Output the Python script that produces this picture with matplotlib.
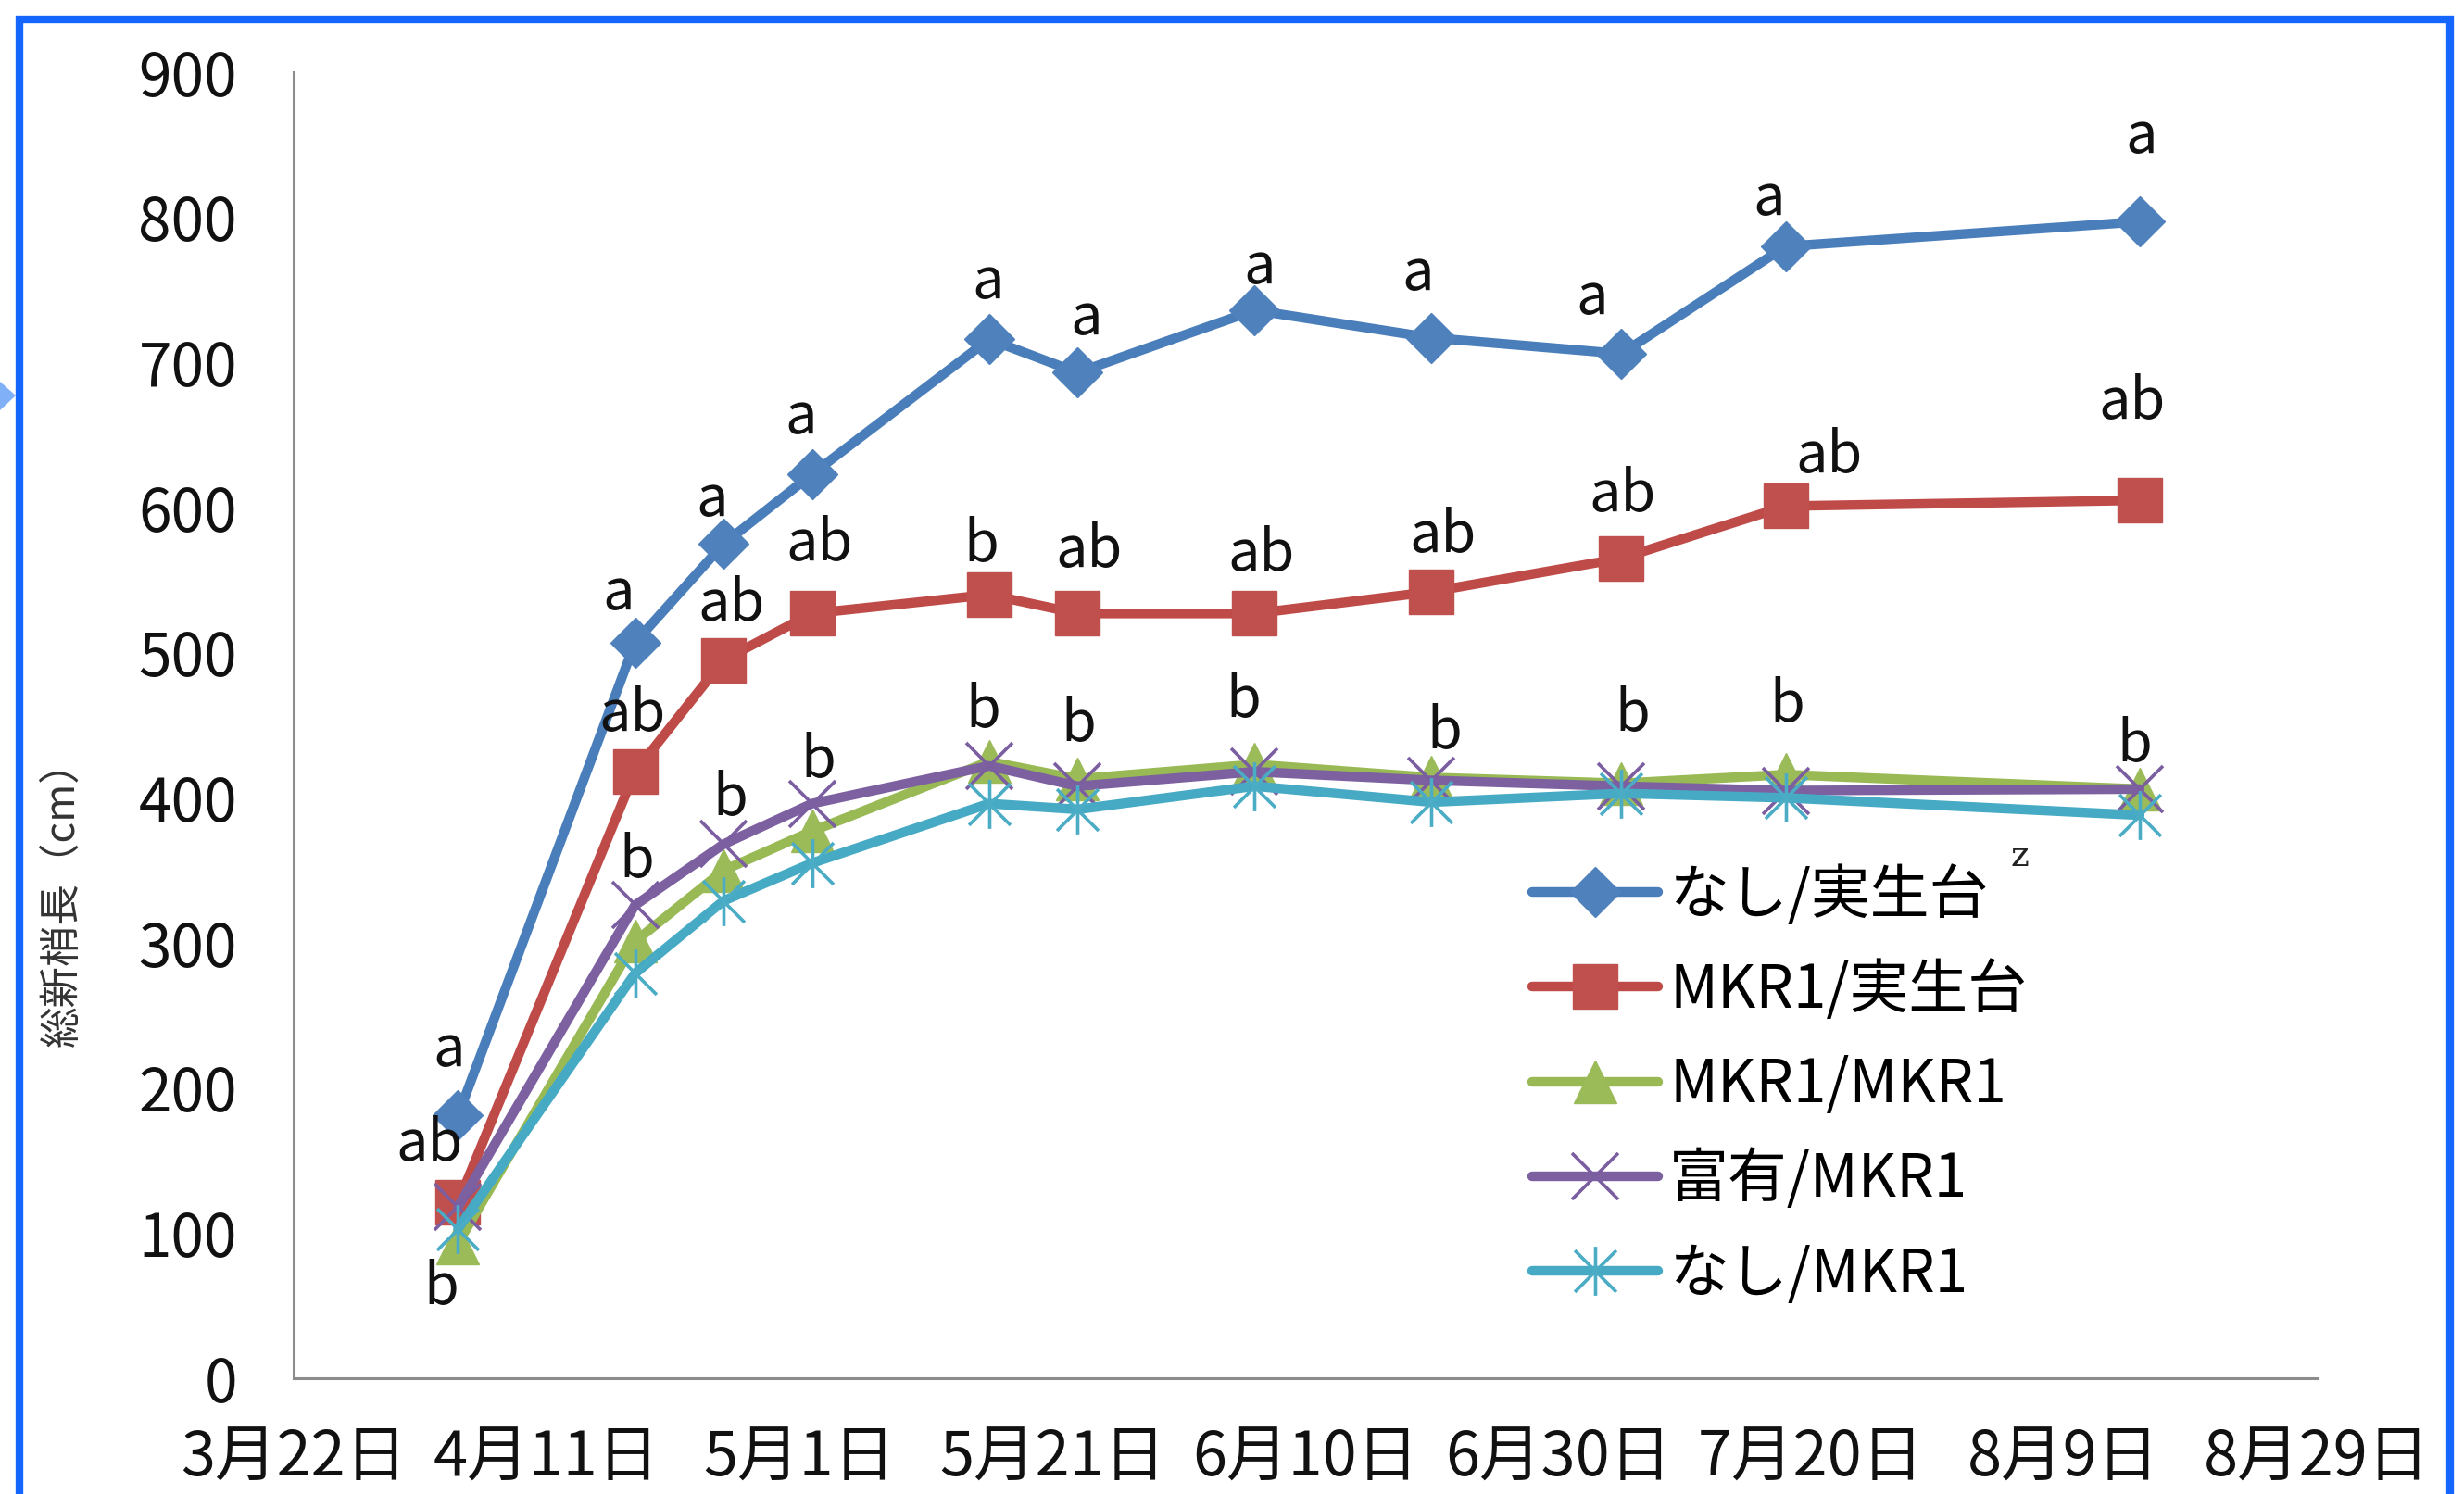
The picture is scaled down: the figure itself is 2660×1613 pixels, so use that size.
import datetime as dt

import matplotlib
matplotlib.use("Agg")
import matplotlib.pyplot as plt
from matplotlib.path import Path
from matplotlib.patches import Rectangle, Polygon

plt.rcParams["font.family"] = ["Noto Sans CJK JP", "DejaVu Sans"]

# ---- data -------------------------------------------------------------
dates = ["2013-04-04", "2013-04-18", "2013-04-25", "2013-05-02", "2013-05-16",
         "2013-05-23", "2013-06-06", "2013-06-20", "2013-07-05", "2013-07-18",
         "2013-08-15"]

series_names = ["なし/実生台", "MKR1/実生台", "MKR1/MKR1", "富有/MKR1", "なし/MKR1"]

nashi_seedling = [181, 507, 575, 623, 716, 693, 736, 717, 706, 780, 797]
mkr1_seedling = [121, 418, 495, 527, 540, 527, 527, 542, 565, 601, 605]
mkr1_mkr1 = [93, 301, 350, 377, 425, 413, 423, 414, 410, 416, 406]
fuyu_mkr1 = [118, 326, 368, 396, 422, 408, 418, 412, 408, 405, 406]
nashi_mkr1 = [103, 279, 329, 355, 396, 392, 408, 397, 403, 400, 388]

letters_top = ["a"] * 11
letters_mid = ["ab", "ab", "ab", "ab", "b", "ab", "ab", "ab", "ab", "ab", "ab"]
letters_low = ["b"] * 11

y_ticks = [0, 100, 200, 300, 400, 500, 600, 700, 800, 900]
x_start, x_end = "2013-03-22", "2013-08-29"
y_label = "総新梢長（cm）"

# ---- styling ------------------------------------------------------------
W, H, DPI = 2660, 1613, 100
line_colors = ["#4A7EBB", "#BE4B48", "#98B954", "#7D60A0", "#46AAC5"]
mark_colors = ["#4F81BD", "#C0504D", "#9BBB59", "#7B5EA0", "#4BACC6"]

# Excel-style "star" marker: a vertical stroke plus an X
star_path = Path([(0, -1), (0, 1), (-0.85, -0.85), (0.85, 0.85), (-0.85, 0.85), (0.85, -0.85)],
                 [Path.MOVETO, Path.LINETO] * 3)

marker_specs = [
    dict(marker="D", markersize=28),
    dict(marker="s", markersize=35),
    dict(marker="^", markersize=33),
    dict(marker="x", markersize=36, markeredgewidth=2.6),
    dict(marker=star_path, markersize=38, markeredgewidth=2.6, markerfacecolor="none"),
]

# label offsets in points (dx, dy) from the anchoring point
off_top = [(-7, 51), (-13, 38), (-9, 34), (-9, 44), (-1, 44), (7, 42), (4, 33),
           (-11, 50), (-23, 43), (-13, 37), (1, 66)]
off_mid = [(-22, 45), (-2, 44), (6, 43), (6, 54), (-6, 38), (9, 49), (5, 46),
           (9, 43), (1, 49), (34, 39), (-6, 76)]
off_low = [(-13, -35), (1, 34), (5, 35), (5, 33), (-5, 39), (1, 42), (-9, 49),
           (10, 35), (9, 53), (1, 54), (-4, 34)]

fig = plt.figure(figsize=(W / DPI, H / DPI), dpi=DPI)
fig.patch.set_facecolor("white")

ax = fig.add_axes([317 / W, 1 - 1488 / H, (2501 - 317) / W, (1488 - 78) / H])

x = [dt.datetime.strptime(d, "%Y-%m-%d") for d in dates]
all_series = [nashi_seedling, mkr1_seedling, mkr1_mkr1, fuyu_mkr1, nashi_mkr1]

for vals, name, lc, mc, spec in zip(all_series, series_names, line_colors, mark_colors, marker_specs):
    kw = dict(spec)
    kw.setdefault("markerfacecolor", mc)
    ax.plot(x, vals, color=lc, lw=7.5, markeredgecolor=mc, label=name,
            solid_joinstyle="round", solid_capstyle="round", **kw)

label_kw = dict(textcoords="offset points", ha="center", va="center",
                fontsize=44, color="#111111", zorder=10)
for i, xi in enumerate(x):
    ax.annotate(letters_top[i], (xi, nashi_seedling[i]), xytext=off_top[i], **label_kw)
    ax.annotate(letters_mid[i], (xi, mkr1_seedling[i]), xytext=off_mid[i], **label_kw)
    if i == 0:
        anchor = min(mkr1_mkr1[i], fuyu_mkr1[i], nashi_mkr1[i])
    else:
        anchor = max(mkr1_mkr1[i], fuyu_mkr1[i], nashi_mkr1[i])
    ax.annotate(letters_low[i], (xi, anchor), xytext=off_low[i], **label_kw)

# axes
x0 = dt.datetime.strptime(x_start, "%Y-%m-%d")
x1 = dt.datetime.strptime(x_end, "%Y-%m-%d")
ax.set_xlim(x0, x1)
ax.set_ylim(0, 900)
ax.set_yticks(y_ticks)
xt = [x0 + dt.timedelta(days=20 * k) for k in range(9)]
ax.set_xticks(xt)
ax.set_xticklabels([f"{d.month}月{d.day}日" for d in xt])
ax.tick_params(axis="both", length=0, colors="#111111")
ax.tick_params(axis="y", pad=44, labelsize=46)
ax.tick_params(axis="x", pad=38, labelsize=48)
for s in ("top", "right"):
    ax.spines[s].set_visible(False)
for s in ("left", "bottom"):
    ax.spines[s].set_color("#8C8C8C")
    ax.spines[s].set_linewidth(2.2)

fig.text(67 / W, 1 - 965 / H, y_label, rotation=90, ha="center", va="center",
         fontsize=32, color="#333333")

leg = ax.legend(loc="upper left", bbox_to_anchor=(1654 / W, 1 - 934 / H),
                bbox_transform=fig.transFigure, frameon=False, fontsize=46,
                handlelength=2.13, handletextpad=0.19, labelspacing=0.56,
                borderpad=0, borderaxespad=0)

fig.text(2180 / W, 1 - 925 / H, "z", ha="center", va="center", fontsize=27,
         family="DejaVu Serif", color="#222222")

# frame around the whole figure
fig.patches.append(Polygon([(0, 1 - 412 / H), (17 / W, 1 - 427 / H), (0, 1 - 443 / H)],
                           closed=True, transform=fig.transFigure,
                           facecolor="#7FB0F8", edgecolor="none", zorder=0))
fig.patches.append(Rectangle((21 / W, -0.05), (2645 - 21) / W, 1.05 - 21 / H,
                             transform=fig.transFigure, fill=False,
                             edgecolor="#1466FF", linewidth=6, zorder=5))

fig.savefig("out.png", dpi=DPI, facecolor="white")
